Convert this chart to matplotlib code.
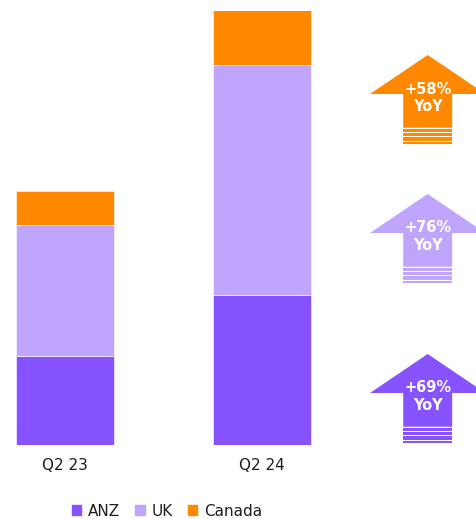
import matplotlib
matplotlib.use("Agg")
import matplotlib.pyplot as plt
from matplotlib.patches import Polygon, Rectangle, Patch

# data (bar heights, arbitrary units)
quarters = ["Q2 23", "Q2 24"]
regions = ["ANZ", "UK", "Canada"]
anz = [88, 149.5]
uk = [131, 230]
canada = [34, 54.3]
growth_labels = ["+69%\nYoY", "+76%\nYoY", "+58%\nYoY"]  # ANZ, UK, Canada

colors = {"ANZ": "#8752FF", "UK": "#BFA5FE", "Canada": "#FF8800"}
text_color = "#1e1e1e"

W, H = 477, 519
fig = plt.figure(figsize=(W / 100, H / 100), dpi=100)

# bars
base_px, top_px = 444.5, 10.5
ax = fig.add_axes([0, (H - base_px) / H, 1, (base_px - top_px) / H])
x = [0, 1]
unit = 197.0
bottom = [0, 0]
for name, vals in zip(regions, [anz, uk, canada]):
    ax.bar(x, vals, width=98 / unit, bottom=bottom, color=colors[name],
           edgecolor="white", linewidth=0.4)
    bottom = [b + v for b, v in zip(bottom, vals)]
ax.set_xlim(-65 / unit, (W - 65) / unit)
ax.set_ylim(0, max(bottom))
ax.set_xticks(x)
ax.set_xticklabels(quarters, fontsize=11, color=text_color)
ax.tick_params(axis="x", length=0, pad=10)
ax.set_yticks([])
for s in ax.spines.values():
    s.set_visible(False)
ax.patch.set_alpha(0)

# growth arrows, drawn in pixel space
ov = fig.add_axes([0, 0, 1, 1])
ov.set_xlim(0, W)
ov.set_ylim(H, 0)
ov.axis("off")
ov.patch.set_alpha(0)


def draw_arrow(top, color, label):
    cx, hw, sw = 427.7, 57.7, 24.5
    head = 39
    solid = 72.7
    pts = [(cx, top), (cx + hw, top + head), (cx + sw, top + head),
           (cx + sw, top + solid), (cx - sw, top + solid),
           (cx - sw, top + head), (cx - hw, top + head)]
    ov.add_patch(Polygon(pts, closed=True, color=color, lw=0))
    for off, th in [(74.0, 2.8), (78.3, 2.5), (81.7, 1.9), (84.3, 1.8), (87.0, 1.8)]:
        ov.add_patch(Rectangle((cx - sw, top + off), 2 * sw, th, color=color, lw=0))
    first, second = label.split("\n")
    ov.text(cx, top + 34, first, color="white", fontsize=10.5, fontweight="bold",
            ha="center", va="center")
    ov.text(cx, top + 51.5, second, color="white", fontsize=10.5, fontweight="bold",
            ha="center", va="center")


arrow_tops = {"Canada": 55, "UK": 194, "ANZ": 354}
for name, label in zip(regions, growth_labels):
    draw_arrow(arrow_tops[name], colors[name], label)

# legend
handles = [Patch(color=colors[r], label=r) for r in regions]
leg = fig.legend(handles=handles, loc="center", ncol=3, frameon=False,
                 bbox_to_anchor=(167 / W, 1 - 511 / H), fontsize=11,
                 handlelength=0.65, handleheight=0.65, handletextpad=0.45,
                 columnspacing=0.95)
for t in leg.get_texts():
    t.set_color(text_color)

fig.savefig("out.png", dpi=100)
